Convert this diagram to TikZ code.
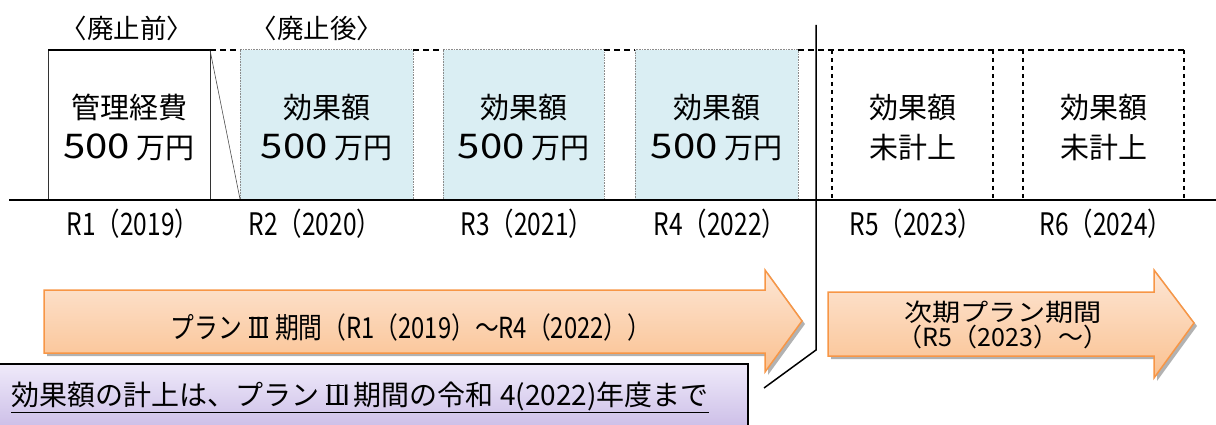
\documentclass[tikz,border=0pt]{standalone}
\usepackage{fontspec}
\newfontfamily\jp{Noto Sans CJK JP}
\newfontfamily\jpc[FakeStretch=0.79]{Noto Sans CJK JP}
\newfontfamily\jpa[FakeStretch=0.82]{Noto Sans CJK JP}
\newfontfamily\jpw[FakeStretch=1.15]{Noto Sans CJK JP}
\newfontfamily\jpd[FakeStretch=1.18]{Noto Sans CJK JP}
\newcommand\bignum[1]{{\jpd\fontsize{34}{40}\selectfont #1}}
\newcommand\romthree{\begingroup\setbox0\hbox to 0.66em{I\hfil I\hfil I}%
  \dimen0=\wd0 \dimen2=0.06em
  \kern0.24em\hbox{\rlap{\rule{\dimen0}{\dimen2}}\rlap{\raisebox{\dimexpr\ht0-\dimen2}{\rule{\dimen0}{\dimen2}}}\box0}\kern0.24em\endgroup}
\definecolor{boxblue}{HTML}{DAEEF3}
\definecolor{arrowline}{HTML}{F79646}
\definecolor{arrowtop}{HTML}{FDE6D5}
\definecolor{arrowbot}{HTML}{FAC190}
\definecolor{purtop}{HTML}{EFEAFA}
\definecolor{purbot}{HTML}{CBBDE7}
\tikzset{
  yearbox/.style={inner sep=0pt, outer sep=0pt, minimum height=149pt},
  firstbox/.style={yearbox, draw=black!80, line width=1pt, fill=white},
  bluebox/.style={yearbox, fill=boxblue, draw=black!45, line width=1pt, dash pattern=on 0.8pt off 0.8pt},
  openbox/.style={yearbox},
  boxtext/.style={inner sep=0pt, align=center, font=\jp\fontsize{29}{40}\selectfont},
  topdash/.style={line width=2pt, dash pattern=on 6pt off 4pt},
  sidedash/.style={line width=2pt, dash pattern=on 4pt off 4pt},
  yearlabel/.style={inner sep=0pt, font=\jpc\fontsize{31}{31}\selectfont},
  header/.style={inner sep=0pt, font=\jp\fontsize{26.5}{26.5}\selectfont},
  arrowshape/.style={draw=arrowline, line width=1.5pt, top color=arrowtop, bottom color=arrowbot},
  arrowshadow/.style={fill=black!30},
}
\begin{document}
\begin{tikzpicture}[x=1pt,y=-1pt]
\useasboundingbox (0,0) rectangle (1216,425);
% headers
\node[header] (h1) at (127,28) {〈廃止前〉};
\node[header] (h2) at (317,28) {〈廃止後〉};
% boxes
\node[firstbox, minimum width=162pt] (b1) at (129,124.5) {};
\node[bluebox, minimum width=173pt] (b2) at (326.5,124.5) {};
\node[bluebox, minimum width=161pt] (b3) at (523.5,124.5) {};
\node[bluebox, minimum width=163pt] (b4) at (716.5,124.5) {};
\node[openbox, minimum width=161pt] (b5) at (912.5,124.5) {};
\node[openbox, minimum width=161pt] (b6) at (1103.5,124.5) {};
\node[boxtext] (t1) at (129,127.5) {管理経費\\\bignum{500} 万円};
\node[boxtext] (t2) at (326.5,127.5) {効果額\\\bignum{500} 万円};
\node[boxtext] (t3) at (523.5,127.5) {効果額\\\bignum{500} 万円};
\node[boxtext] (t4) at (716.5,127.5) {効果額\\\bignum{500} 万円};
\node[boxtext] (t5) at (912.5,127) {効果額\\未計上};
\node[boxtext] (t6) at (1103.5,127) {効果額\\未計上};
\draw[line width=2pt] (b1.north west) -- (b1.north east);
\draw[line width=0.6pt, black!70] (b1.north east) -- (b2.south west);
% top dashed line segments
\draw[topdash] (b1.north east) -- (b2.north west);
\draw[topdash] (b2.north east) -- (b3.north west);
\draw[topdash] (b3.north east) -- (b4.north west);
\draw[topdash] (b4.north east) -- (b6.north east);
\draw[sidedash] (b5.north west) -- (b5.south west);
\draw[sidedash] (b5.north east) -- (b5.south east);
\draw[sidedash] (b6.north west) -- (b6.south west);
\draw[sidedash] (b6.north east) -- (b6.south east);
% timeline
\coordinate (tl0) at (9,200);
\coordinate (tl1) at (1216,200);
\draw[line width=2pt] (tl0) -- (tl1);
% year labels
\node[yearlabel] (y1) at (133,224) {R1（2019）};
\node[yearlabel] (y2) at (315,224) {R2（2020）};
\node[yearlabel] (y3) at (527,224) {R3（2021）};
\node[yearlabel] (y4) at (720,224) {R4（2022）};
\node[yearlabel] (y5) at (916,224) {R5（2023）};
\node[yearlabel] (y6) at (1106,224) {R6（2024）};
% divider
\coordinate (d0) at (816,25);
\coordinate (d1) at (816,350);
\coordinate (d2) at (764,388);
\draw[line width=1.5pt] (d0) -- (d1) -- (d2);
% arrows
\fill[arrowshadow, shift={(3,3)}] (44,290) -- (765,290) -- (765,270) -- (802,321) -- (765,372) -- (765,353) -- (44,353) -- cycle;
\path[arrowshape] (44,290) -- (765,290) -- (765,270) -- (802,321) -- (765,372) -- (765,353) -- (44,353) -- cycle;
\fill[arrowshadow, shift={(3,3)}] (828,292) -- (1154,292) -- (1154,270) -- (1194,323) -- (1154,378) -- (1154,356) -- (828,356) -- cycle;
\path[arrowshape] (828,292) -- (1154,292) -- (1154,270) -- (1194,323) -- (1154,378) -- (1154,356) -- (828,356) -- cycle;
\node[inner sep=0pt, font=\jpa\fontsize{29}{29}\selectfont] (a1) at (411,327) {プラン\romthree 期間（R1（2019）～R4（2022））};
\node[inner sep=0pt, align=center, font=\jpw\fontsize{24.5}{25}\selectfont] (a2) at (1003,324.5) {次期プラン期間\\{\jp\fontsize{25}{25}\selectfont（R5（2023）～）}};
% note box
\path[top color=purtop, bottom color=purbot] (-5,364) rectangle (748,430);
\draw[line width=2pt] (-5,364) -- (748,364) -- (748,430);
\node[inner sep=0pt, anchor=west, font=\jp\fontsize{28}{28}\selectfont] (n1) at (11,397) {\underline{効果額の計上は、プラン\romthree\kern0.1em 期間の令和 4(2022)年度まで}};
\end{tikzpicture}
\end{document}
